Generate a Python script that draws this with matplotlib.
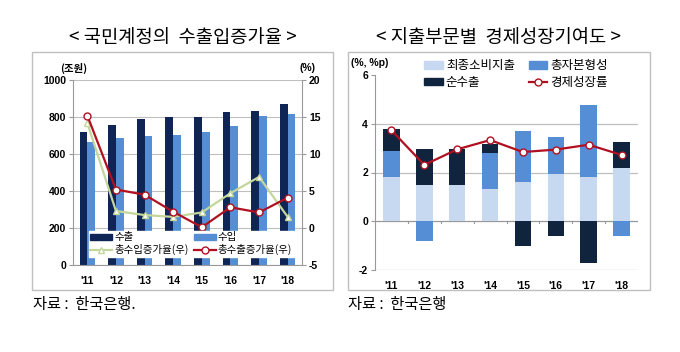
import matplotlib
matplotlib.use("Agg")
import matplotlib.pyplot as plt
from matplotlib.patches import Rectangle
from matplotlib.lines import Line2D
import numpy as np

plt.rcParams['font.family'] = ['Noto Sans CJK KR', 'DejaVu Sans']
plt.rcParams['axes.unicode_minus'] = False

years = ["'11", "'12", "'13", "'14", "'15", "'16", "'17", "'18"]

# left: 국민계정의 수출입증가율
exports = [720, 755, 790, 800, 800, 825, 835, 870]
imports = [665, 685, 695, 705, 720, 750, 805, 815]
import_growth = [14.2, 2.3, 1.75, 1.5, 2.1, 4.7, 6.9, 1.5]
export_growth = [15.2, 5.2, 4.5, 2.2, 0.1, 2.8, 2.1, 4.1]

# right: 지출부문별 경제성장기여도
consumption = [1.8, 1.5, 1.5, 1.32, 1.63, 1.95, 1.8, 2.2]
capital = [1.1, -0.8, 0.0, 1.5, 2.07, 1.52, 2.96, -0.6]
net_exports = [0.9, 1.48, 1.48, 0.36, -1.0, -0.6, -1.7, 1.06]
gdp_growth = [3.73, 2.31, 2.95, 3.33, 2.84, 2.94, 3.14, 2.72]

W, H = 680, 352
fig = plt.figure(figsize=(W / 100, H / 100), dpi=100)


def px_axes(x0, y0, x1, y1):
    return fig.add_axes([x0 / W, 1 - y1 / H, (x1 - x0) / W, (y1 - y0) / H])


def px_text(x, y, s, **kw):
    fig.text(x / W, 1 - y / H, s, **kw)


def px_box(x0, y0, x1, y1):
    fig.patches.append(Rectangle((x0 / W, 1 - y1 / H), (x1 - x0) / W, (y1 - y0) / H,
                                 transform=fig.transFigure, fill=False,
                                 edgecolor='#bfbfbf', lw=1.0))


navy = '#0f2556'
mid_blue = '#558ed5'
light_blue = '#c6d9f1'
dark = '#10243e'
red = '#b01020'
green = '#c3d69b'
tick_font = dict(fontsize=7.5, fontweight='bold', family=['Liberation Sans', 'DejaVu Sans'])

# ---------------- left chart ----------------
px_box(32, 52, 333, 290)
px_text(183, 37, '< 국민계정의  수출입증가율 >', ha='center', va='center', fontsize=13.5)
px_text(33, 305, '자료 :  한국은행.', ha='left', va='center', fontsize=11)

x = np.arange(len(years))
ax = px_axes(73, 80, 302, 265)
bw = 0.27
ax.bar(x - bw / 2, exports, bw, color=navy, zorder=2)
ax.bar(x + bw / 2, imports, bw, color=mid_blue, zorder=2)
ax.set_xlim(-0.5, 7.5)
ax.set_ylim(0, 1000)
ax.set_yticks(range(0, 1001, 200))
ax.grid(axis='y', color='#bfbfbf', lw=0.8, zorder=0)
ax.set_xticks(x)
ax.set_xticklabels(years, **tick_font)
for lab in ax.get_yticklabels():
    lab.set(**tick_font)
ax.tick_params(axis='x', length=0, pad=8)
ax.tick_params(axis='y', length=3, color='#999999', pad=2)
for s in ['top', 'right']:
    ax.spines[s].set_visible(False)
ax.spines['left'].set_color('#999999')
ax.spines['bottom'].set_color('#999999')

ax2 = ax.twinx()
ax2.plot(x, import_growth, color=green, lw=1.6, marker='^', ms=5,
         mfc='white', mec=green, zorder=3)
ax2.plot(x, export_growth, color=red, lw=1.6, marker='o', ms=5,
         mfc='white', mec=red, zorder=4)
ax2.set_ylim(-5, 20)
ax2.set_yticks(range(-5, 21, 5))
for lab in ax2.get_yticklabels():
    lab.set(**tick_font)
ax2.tick_params(axis='y', length=3, color='#999999', pad=2)
for s in ['top', 'left', 'bottom']:
    ax2.spines[s].set_visible(False)
ax2.spines['right'].set_color('#999999')

px_text(74, 68, '(조원)', ha='center', va='center', fontsize=7.5, fontweight='bold')
px_text(308, 68, '(%)', ha='center', va='center', fontsize=7.5, fontweight='bold',
        family=['Liberation Sans', 'DejaVu Sans'])

# order so that rows read: 수출 수입 / 총수입증가율 총수출증가율
handles = [
    Rectangle((0, 0), 1, 1, color=navy),
    Line2D([], [], color=green, lw=1.6, marker='^', ms=5, mfc='white', mec=green),
    Rectangle((0, 0), 1, 1, color=mid_blue),
    Line2D([], [], color=red, lw=1.6, marker='o', ms=5, mfc='white', mec=red),
]
labels = ['수출', '총수입증가율(우)', '수입', '총수출증가율(우)']
leg = ax2.legend(handles, labels, ncol=2, loc='lower center',
                 bbox_to_anchor=(0.517, 0.015), frameon=True, fancybox=False,
                 framealpha=1, edgecolor='white', fontsize=7.5,
                 handlelength=2.1, handleheight=0.5, columnspacing=0.5,
                 labelspacing=0.2, borderpad=0.15, handletextpad=0.2)
leg.set_zorder(10)

# ---------------- right chart ----------------
px_box(348, 52, 650, 290)
px_text(499, 37, '< 지출부문별  경제성장기여도 >', ha='center', va='center', fontsize=13.5)
px_text(348, 305, '자료 :  한국은행', ha='left', va='center', fontsize=11)

bx = px_axes(375, 75, 638, 270)
cons = np.array(consumption)
cap = np.array(capital)
nex = np.array(net_exports)
pos_base = np.zeros(len(years))
neg_base = np.zeros(len(years))
rw = 0.5
for vals, col in [(cons, light_blue), (cap, mid_blue), (nex, dark)]:
    bottoms = np.where(vals >= 0, pos_base, neg_base)
    bx.bar(x, vals, rw, bottom=bottoms, color=col, zorder=2)
    pos_base = pos_base + np.where(vals >= 0, vals, 0)
    neg_base = neg_base + np.where(vals < 0, vals, 0)
bx.plot(x, gdp_growth, color=red, lw=1.6, marker='o', ms=5,
        mfc='white', mec=red, zorder=4)
bx.set_xlim(-0.5, 7.5)
bx.set_ylim(-2, 6)
bx.set_yticks(range(-2, 7, 2))
for yv in [-2, 2, 4]:
    bx.axhline(yv, color='#bfbfbf', lw=0.9, zorder=0)
bx.axhline(0, color='#999999', lw=0.9, zorder=1)
for xb in np.arange(0.5, 7.5, 1.0):
    bx.plot([xb, xb], [0, -0.06], color='#999999', lw=0.8, zorder=1)
bx.set_xticks(x)
bx.set_xticklabels(years, **tick_font)
for lab in bx.get_yticklabels():
    lab.set(**tick_font)
bx.tick_params(axis='x', length=0, pad=8)
bx.tick_params(axis='y', length=3, color='#999999', pad=2)
for s in ['top', 'right', 'bottom']:
    bx.spines[s].set_visible(False)
bx.spines['left'].set_color('#999999')

px_text(370, 63, '(%, %p)', ha='center', va='center', fontsize=7.5, fontweight='bold',
        family=['Liberation Sans', 'DejaVu Sans'])

# order so that rows read: 최종소비지출 총자본형성 / 순수출 경제성장률
rhandles = [
    Rectangle((0, 0), 1, 1, color=light_blue),
    Rectangle((0, 0), 1, 1, color=dark),
    Rectangle((0, 0), 1, 1, color=mid_blue),
    Line2D([], [], color=red, lw=1.6, marker='o', ms=5, mfc='white', mec=red),
]
rlabels = ['최종소비지출', '순수출', '총자본형성', '경제성장률']
rleg = fig.legend(rhandles, rlabels, ncol=2, loc='center',
                  bbox_to_anchor=(516 / W, 1 - 74 / H), frameon=False, fontsize=9,
                  handlelength=1.5, handleheight=0.5, columnspacing=1.1,
                  labelspacing=0.25, borderpad=0.1, handletextpad=0.25)

fig.savefig('out.png', dpi=100)
